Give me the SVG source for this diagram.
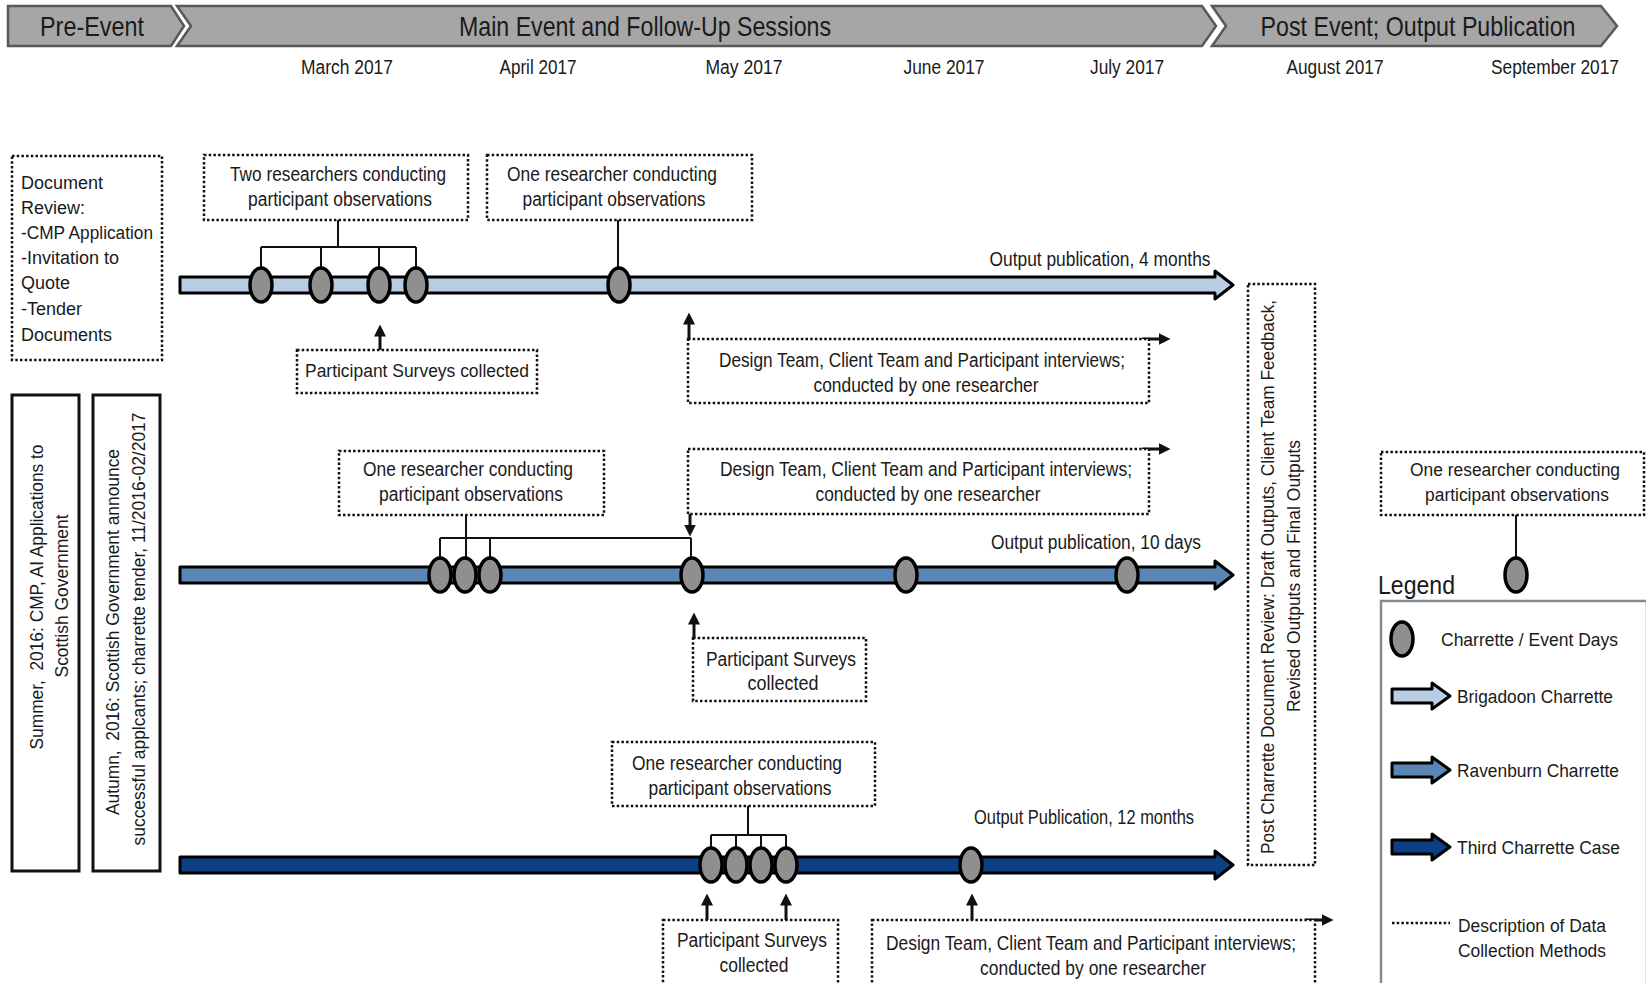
<svg xmlns="http://www.w3.org/2000/svg" width="1646" height="983" viewBox="0 0 1646 983">
  <style>
    text { font-family: "Liberation Sans", Arial, sans-serif; fill: #1a1a1a; }
    .hdr { font-size: 28px; text-anchor: middle; }
    .mon { font-size: 20px; text-anchor: middle; }
    .lbl { font-size: 20px; text-anchor: middle; }
    .reg { font-size: 18px; }
    .mid { text-anchor: middle; }
    .chev { fill: #a6a6a6; stroke: #595959; stroke-width: 2.5; stroke-linejoin: miter; }
    .dot { fill: #ffffff; stroke: #111; stroke-width: 2.5; stroke-dasharray: 2.5 2.2; }
    .solid { fill: #ffffff; stroke: #111; stroke-width: 3; }
    .line { fill: none; stroke: #111; stroke-width: 2; }
    .arr { fill: none; stroke: #111; stroke-width: 3; marker-end: url(#head); }
    .day { fill: #8f8f8f; stroke: #000; stroke-width: 3.5; }
    .tl { stroke: #000; stroke-width: 3; stroke-linejoin: round; }
    .c1 { fill: #b8cce4; }
    .c2 { fill: #5a86b6; }
    .c3 { fill: #0d3f84; }
  </style>
  <defs>
    <marker id="head" markerWidth="4" markerHeight="4" refX="2.5" refY="2" orient="auto" markerUnits="strokeWidth">
      <path d="M0,0 L4,2 L0,4 Z" fill="#111"/>
    </marker>
  </defs>

  <rect width="1646" height="983" fill="#ffffff"/>

  <!-- phase banner -->
  <g id="phase-pre">
    <polygon class="chev" points="8,6 171,6 184,26 171,46 8,46"/>
    <text class="hdr" x="92" y="36" textLength="104" lengthAdjust="spacingAndGlyphs">Pre-Event</text>
  </g>
  <g id="phase-main">
    <polygon class="chev" points="177,6 1202,6 1216,26 1202,46 177,46 191,26"/>
    <text class="hdr" x="645" y="36" textLength="372" lengthAdjust="spacingAndGlyphs">Main Event and Follow-Up Sessions</text>
  </g>
  <g id="phase-post">
    <polygon class="chev" points="1212,6 1601,6 1617,26 1601,46 1212,46 1226,26"/>
    <text class="hdr" x="1418" y="36" textLength="315" lengthAdjust="spacingAndGlyphs">Post Event; Output Publication</text>
  </g>

  <!-- months -->
  <g id="months">
    <text class="mon" x="347" y="74" textLength="92" lengthAdjust="spacingAndGlyphs">March 2017</text>
    <text class="mon" x="538" y="74" textLength="77" lengthAdjust="spacingAndGlyphs">April 2017</text>
    <text class="mon" x="744" y="74" textLength="77" lengthAdjust="spacingAndGlyphs">May 2017</text>
    <text class="mon" x="944" y="74" textLength="81" lengthAdjust="spacingAndGlyphs">June 2017</text>
    <text class="mon" x="1127" y="74" textLength="74" lengthAdjust="spacingAndGlyphs">July 2017</text>
    <text class="mon" x="1335" y="74" textLength="97" lengthAdjust="spacingAndGlyphs">August 2017</text>
    <text class="mon" x="1555" y="74" textLength="128" lengthAdjust="spacingAndGlyphs">September 2017</text>
  </g>

  <!-- pre-event boxes -->
  <g id="doc-review">
    <rect class="dot" x="12" y="156" width="150" height="204"/>
    <text class="reg" x="21" y="189">Document</text>
    <text class="reg" x="21" y="214">Review:</text>
    <text class="reg" x="21" y="239" textLength="132" lengthAdjust="spacingAndGlyphs">-CMP Application</text>
    <text class="reg" x="21" y="264">-Invitation to</text>
    <text class="reg" x="21" y="289">Quote</text>
    <text class="reg" x="21" y="315">-Tender</text>
    <text class="reg" x="21" y="341">Documents</text>
  </g>
  <g id="summer-2016">
    <rect class="solid" x="12" y="395" width="67" height="476"/>
    <g transform="translate(37,597) rotate(-90)">
      <text class="reg mid" x="0" y="6" textLength="305" lengthAdjust="spacingAndGlyphs" xml:space="preserve">Summer,  2016: CMP, AI Applications to</text>
    </g>
    <g transform="translate(62,596) rotate(-90)">
      <text class="reg mid" x="0" y="6" textLength="163" lengthAdjust="spacingAndGlyphs">Scottish Government</text>
    </g>
  </g>
  <g id="autumn-2016">
    <rect class="solid" x="93" y="395" width="67" height="476"/>
    <g transform="translate(113,632) rotate(-90)">
      <text class="reg mid" x="0" y="6" textLength="366" lengthAdjust="spacingAndGlyphs" xml:space="preserve">Autumn,  2016: Scottish Government announce</text>
    </g>
    <g transform="translate(139,629) rotate(-90)">
      <text class="reg mid" x="0" y="6" textLength="433" lengthAdjust="spacingAndGlyphs">successful applcants; charrette tender, 11/2016-02/2017</text>
    </g>
  </g>

  <!-- timelines -->
  <g id="timeline-brigadoon">
    <path class="tl c1" d="M180,277 L1215,277 L1215,271 L1233,285 L1215,299 L1215,293 L180,293 Z"/>
  </g>
  <g id="timeline-ravenburn">
    <path class="tl c2" d="M180,567 L1215,567 L1215,561 L1233,575 L1215,589 L1215,583 L180,583 Z"/>
  </g>
  <g id="timeline-third">
    <path class="tl c3" d="M180,857 L1215,857 L1215,851 L1233,865 L1215,879 L1215,873 L180,873 Z"/>
  </g>

  <!-- connectors -->
  <g id="connectors">
    <!-- Brigadoon -->
    <path class="line" d="M338,220 V247 M261,247 H416 M261,247 V267 M321,247 V267 M379,247 V267 M416,247 V267"/>
    <path class="line" d="M618,220 V267"/>
    <path class="arr" d="M380,350 V329"/>
    <path class="arr" d="M689,339 V317"/>
    <path class="arr" d="M1142,339 H1166"/>
    <!-- Ravenburn -->
    <path class="line" d="M466,515 V558 M440,538 H691 M440,538 V558 M490,538 V558 M691,538 V558"/>
    <path class="arr" d="M690,514 V532"/>
    <path class="arr" d="M694,638 V617"/>
    <path class="arr" d="M1142,449 H1166"/>
    <path class="line" d="M1516,515 V558"/>
    <!-- Third case -->
    <path class="line" d="M748,806 V835 M711,835 H786 M711,835 V848 M736,835 V848 M761,835 V848 M786,835 V848"/>
    <path class="arr" d="M707,920 V898"/>
    <path class="arr" d="M786,920 V898"/>
    <path class="arr" d="M972,920 V898"/>
    <path class="arr" d="M1305,920 H1329"/>
  </g>

  <!-- event days -->
  <g id="days-brigadoon">
    <ellipse class="day" cx="261" cy="285" rx="11" ry="17"/>
    <ellipse class="day" cx="321" cy="285" rx="11" ry="17"/>
    <ellipse class="day" cx="379" cy="285" rx="11" ry="17"/>
    <ellipse class="day" cx="416" cy="285" rx="11" ry="17"/>
    <ellipse class="day" cx="619" cy="285" rx="11" ry="17"/>
  </g>
  <g id="days-ravenburn">
    <ellipse class="day" cx="440" cy="575" rx="11" ry="17"/>
    <ellipse class="day" cx="465" cy="575" rx="11" ry="17"/>
    <ellipse class="day" cx="490" cy="575" rx="11" ry="17"/>
    <ellipse class="day" cx="692" cy="575" rx="11" ry="17"/>
    <ellipse class="day" cx="906" cy="575" rx="11" ry="17"/>
    <ellipse class="day" cx="1127" cy="575" rx="11" ry="17"/>
  </g>
  <g id="days-third">
    <ellipse class="day" cx="711" cy="865" rx="11" ry="17"/>
    <ellipse class="day" cx="736" cy="865" rx="11" ry="17"/>
    <ellipse class="day" cx="761" cy="865" rx="11" ry="17"/>
    <ellipse class="day" cx="786" cy="865" rx="11" ry="17"/>
    <ellipse class="day" cx="971" cy="865" rx="11" ry="17"/>
  </g>
  <g id="day-extra">
    <ellipse class="day" cx="1516" cy="575" rx="11" ry="17"/>
  </g>

  <!-- Brigadoon notes -->
  <g id="obs-two">
    <rect class="dot" x="204" y="155" width="264" height="65"/>
    <text class="lbl" x="338" y="181" textLength="216" lengthAdjust="spacingAndGlyphs">Two researchers conducting</text>
    <text class="lbl" x="340" y="206" textLength="184" lengthAdjust="spacingAndGlyphs">participant observations</text>
  </g>
  <g id="obs-one-a">
    <rect class="dot" x="487" y="155" width="265" height="65"/>
    <text class="lbl" x="612" y="181" textLength="210" lengthAdjust="spacingAndGlyphs">One researcher conducting</text>
    <text class="lbl" x="614" y="206" textLength="183" lengthAdjust="spacingAndGlyphs">participant observations</text>
  </g>
  <g id="surveys-a">
    <rect class="dot" x="297" y="350" width="240" height="43"/>
    <text class="reg mid" x="417" y="377" textLength="224" lengthAdjust="spacingAndGlyphs">Participant Surveys collected</text>
  </g>
  <g id="interviews-a">
    <rect class="dot" x="688" y="339" width="461" height="64"/>
    <text class="lbl" x="922" y="367" textLength="406" lengthAdjust="spacingAndGlyphs">Design Team, Client Team and Participant interviews;</text>
    <text class="lbl" x="926" y="392" textLength="225" lengthAdjust="spacingAndGlyphs">conducted by one researcher</text>
  </g>
  <text id="output-a" class="lbl" x="1100" y="266" textLength="221" lengthAdjust="spacingAndGlyphs">Output publication, 4 months</text>

  <!-- Ravenburn notes -->
  <g id="obs-one-b">
    <rect class="dot" x="339" y="451" width="265" height="64"/>
    <text class="lbl" x="468" y="476" textLength="210" lengthAdjust="spacingAndGlyphs">One researcher conducting</text>
    <text class="lbl" x="471" y="501" textLength="184" lengthAdjust="spacingAndGlyphs">participant observations</text>
  </g>
  <g id="interviews-b">
    <rect class="dot" x="688" y="449" width="461" height="65"/>
    <text class="lbl" x="926" y="476" textLength="412" lengthAdjust="spacingAndGlyphs">Design Team, Client Team and Participant interviews;</text>
    <text class="lbl" x="928" y="501" textLength="225" lengthAdjust="spacingAndGlyphs">conducted by one researcher</text>
  </g>
  <g id="surveys-b">
    <rect class="dot" x="693" y="638" width="173" height="63"/>
    <text class="lbl" x="781" y="666" textLength="150" lengthAdjust="spacingAndGlyphs">Participant Surveys</text>
    <text class="lbl" x="783" y="690" textLength="71" lengthAdjust="spacingAndGlyphs">collected</text>
  </g>
  <text id="output-b" class="lbl" x="1096" y="549" textLength="210" lengthAdjust="spacingAndGlyphs">Output publication, 10 days</text>

  <!-- Third case notes -->
  <g id="obs-one-c">
    <rect class="dot" x="612" y="742" width="263" height="64"/>
    <text class="lbl" x="737" y="770" textLength="210" lengthAdjust="spacingAndGlyphs">One researcher conducting</text>
    <text class="lbl" x="740" y="795" textLength="183" lengthAdjust="spacingAndGlyphs">participant observations</text>
  </g>
  <g id="surveys-c">
    <rect class="dot" x="663" y="920" width="175" height="70"/>
    <text class="lbl" x="752" y="947" textLength="150" lengthAdjust="spacingAndGlyphs">Participant Surveys</text>
    <text class="lbl" x="754" y="972" textLength="69" lengthAdjust="spacingAndGlyphs">collected</text>
  </g>
  <g id="interviews-c">
    <rect class="dot" x="872" y="920" width="443" height="70"/>
    <text class="lbl" x="1091" y="950" textLength="410" lengthAdjust="spacingAndGlyphs">Design Team, Client Team and Participant interviews;</text>
    <text class="lbl" x="1093" y="975" textLength="226" lengthAdjust="spacingAndGlyphs">conducted by one researcher</text>
  </g>
  <text id="output-c" class="lbl" x="1084" y="824" textLength="220" lengthAdjust="spacingAndGlyphs">Output Publication, 12 months</text>

  <!-- post-event review -->
  <g id="post-review">
    <rect class="dot" x="1248" y="284" width="67" height="581"/>
    <g transform="translate(1268,577) rotate(-90)">
      <text class="reg mid" x="0" y="6" textLength="554" lengthAdjust="spacingAndGlyphs">Post Charrette Document Review: Draft Outputs, Client Team Feedback,</text>
    </g>
    <g transform="translate(1294,576) rotate(-90)">
      <text class="reg mid" x="0" y="6" textLength="272" lengthAdjust="spacingAndGlyphs">Revised Outputs and Final Outputs</text>
    </g>
  </g>
  <g id="obs-one-d">
    <rect class="dot" x="1381" y="452" width="263" height="63"/>
    <text class="reg mid" x="1515" y="476" textLength="210" lengthAdjust="spacingAndGlyphs">One researcher conducting</text>
    <text class="reg mid" x="1517" y="501" textLength="184" lengthAdjust="spacingAndGlyphs">participant observations</text>
  </g>

  <!-- legend -->
  <g id="legend">
    <text x="1378" y="594" style="font-size:25px" textLength="77" lengthAdjust="spacingAndGlyphs">Legend</text>
    <rect x="1381" y="601" width="266" height="390" fill="#ffffff" stroke="#8a8a8a" stroke-width="2.5"/>
    <ellipse class="day" cx="1402" cy="639" rx="11" ry="17"/>
    <text class="reg" x="1441" y="646" textLength="177" lengthAdjust="spacingAndGlyphs">Charrette / Event Days</text>
    <path class="tl c1" d="M1392,689 L1432,689 L1432,683 L1450,696 L1432,709 L1432,703 L1392,703 Z"/>
    <text class="reg" x="1457" y="703" textLength="156" lengthAdjust="spacingAndGlyphs">Brigadoon Charrette</text>
    <path class="tl c2" d="M1392,763 L1432,763 L1432,757 L1450,770 L1432,783 L1432,777 L1392,777 Z"/>
    <text class="reg" x="1457" y="777" textLength="162" lengthAdjust="spacingAndGlyphs">Ravenburn Charrette</text>
    <path class="tl c3" d="M1392,840 L1432,840 L1432,834 L1450,847 L1432,860 L1432,854 L1392,854 Z"/>
    <text class="reg" x="1457" y="854" textLength="163" lengthAdjust="spacingAndGlyphs">Third Charrette Case</text>
    <path d="M1392,923 H1450" stroke="#111" stroke-width="2.5" stroke-dasharray="2.5 2.2"/>
    <text class="reg" x="1458" y="932" textLength="148" lengthAdjust="spacingAndGlyphs">Description of Data</text>
    <text class="reg" x="1458" y="957" textLength="148" lengthAdjust="spacingAndGlyphs">Collection Methods</text>
  </g>
</svg>
